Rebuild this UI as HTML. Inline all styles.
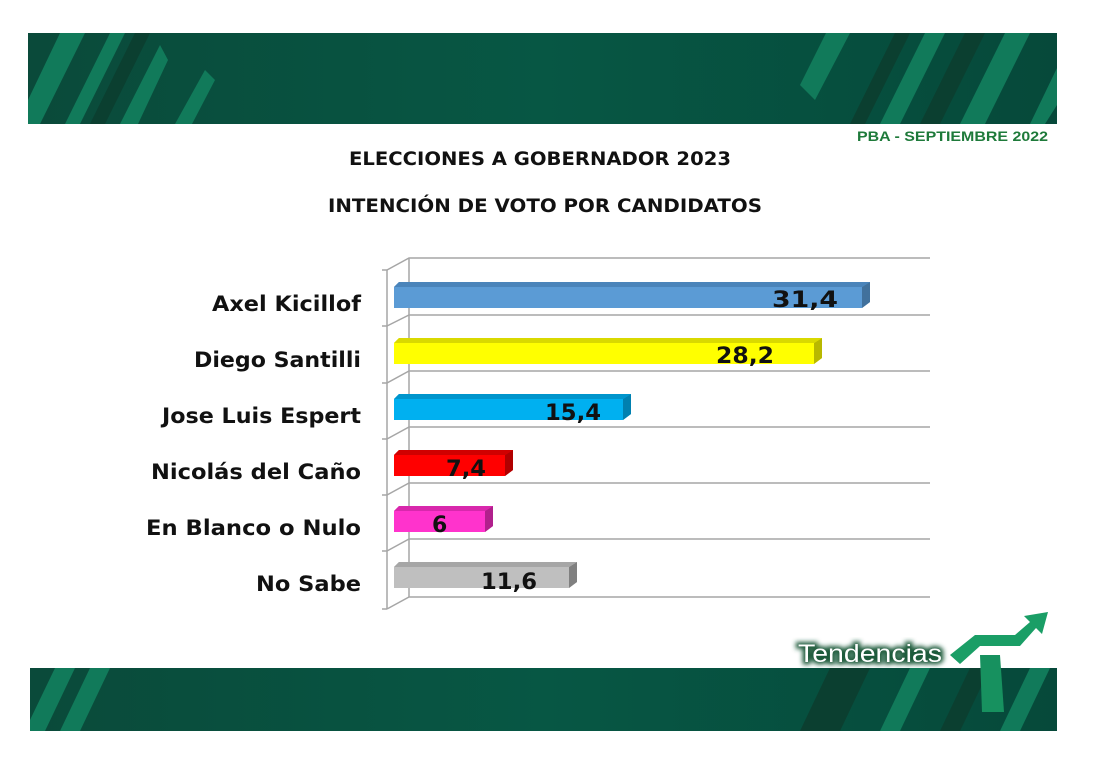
<!DOCTYPE html>
<html><head><meta charset="utf-8"><style>
html,body{margin:0;padding:0;background:#fff;}
body{width:1094px;height:761px;overflow:hidden;}
</style></head><body>
<svg width="1094" height="761" viewBox="0 0 1094 761" xmlns="http://www.w3.org/2000/svg" font-family="DejaVu Sans, Liberation Sans, sans-serif">
<defs>
<linearGradient id="bg" x1="0" y1="0" x2="1" y2="0"><stop offset="0" stop-color="#0a4a3a"/><stop offset="0.5" stop-color="#075744"/><stop offset="1" stop-color="#06493a"/></linearGradient>
<filter id="glow"><feGaussianBlur stdDeviation="2.5"/></filter>
</defs>
<rect x="28" y="33" width="1029" height="91" fill="url(#bg)"/>
<g fill="#117a5a">
<polygon points="28,100 60,33 85,33 40,124 28,124"/>
<polygon points="65,124 110,33 125,33 80,124"/>
<polygon points="120,124 160,45 168,60 138,124"/>
<polygon points="175,124 205,70 215,80 192,124"/>
<polygon points="800,85 826,33 850,33 815,100"/>
<polygon points="880,124 925,33 945,33 900,124"/>
<polygon points="960,124 1005,33 1030,33 985,124"/>
<polygon points="1030,124 1057,68 1057,105 1045,124"/>
</g>
<g fill="#0b3f30"><polygon points="90,124 135,33 150,33 105,124"/><polygon points="850,124 895,33 910,33 865,124"/><polygon points="920,124 965,33 985,33 940,124"/></g>
<text x="857" y="141" textLength="191" lengthAdjust="spacingAndGlyphs" font-family="Liberation Sans, sans-serif" font-size="14" font-weight="bold" fill="#1e7a3a">PBA - SEPTIEMBRE 2022</text>
<text x="349" y="165" textLength="382" lengthAdjust="spacingAndGlyphs" font-size="19" font-weight="bold" fill="#111">ELECCIONES A GOBERNADOR 2023</text>
<text x="328" y="212" textLength="434" lengthAdjust="spacingAndGlyphs" font-size="19" font-weight="bold" fill="#111">INTENCIÓN DE VOTO POR CANDIDATOS</text>
<g stroke="#a6a6a6" stroke-width="1.5" fill="none">
<line x1="409" y1="258" x2="409" y2="597"/>
<line x1="387" y1="270" x2="387" y2="609"/>
<path d="M387 270 L409 258 H930 M387 326 L409 315 H930 M387 383 L409 371 H930 M387 439 L409 427 H930 M387 495 L409 483 H930 M387 551 L409 539 H930 M387 609 L409 597 H930"/>
<path d="M382 270H387M382 326H387M382 383H387M382 439H387M382 495H387M382 551H387M382 609H387"/>
</g>
<g font-size="22" font-weight="bold" fill="#111">
<polygon points="394,287 399,282 870,282 870,302 862,308 394,308" fill="#5b9bd5"/><polygon points="862,287 870,282 870,302 862,308" fill="#41719c"/><polygon points="394,287 399,282 870,282 862,287" fill="#4a84ba"/>
<text x="772" y="307" textLength="66" lengthAdjust="spacingAndGlyphs">31,4</text>
<polygon points="394,343 399,338 822,338 822,358 814,364 394,364" fill="#ffff00"/><polygon points="814,343 822,338 822,358 814,364" fill="#b8b800"/><polygon points="394,343 399,338 822,338 814,343" fill="#d9d900"/>
<text x="716" y="363" textLength="58" lengthAdjust="spacingAndGlyphs">28,2</text>
<polygon points="394,399 399,394 631,394 631,414 623,420 394,420" fill="#00b0f0"/><polygon points="623,399 631,394 631,414 623,420" fill="#0080b0"/><polygon points="394,399 399,394 631,394 623,399" fill="#0095cc"/>
<text x="545" y="420" textLength="56" lengthAdjust="spacingAndGlyphs">15,4</text>
<polygon points="394,455 399,450 513,450 513,470 505,476 394,476" fill="#ff0000"/><polygon points="505,455 513,450 513,470 505,476" fill="#b00000"/><polygon points="394,455 399,450 513,450 505,455" fill="#d00000"/>
<text x="446" y="476" textLength="40" lengthAdjust="spacingAndGlyphs">7,4</text>
<polygon points="394,511 399,506 493,506 493,526 485,532 394,532" fill="#ff33cc"/><polygon points="485,511 493,506 493,526 485,532" fill="#b0208c"/><polygon points="394,511 399,506 493,506 485,511" fill="#d828ac"/>
<text x="432" y="532">6</text>
<polygon points="394,567 399,562 577,562 577,582 569,588 394,588" fill="#bfbfbf"/><polygon points="569,567 577,562 577,582 569,588" fill="#808080"/><polygon points="394,567 399,562 577,562 569,567" fill="#a6a6a6"/>
<text x="481" y="589" textLength="56" lengthAdjust="spacingAndGlyphs">11,6</text>
</g>
<g font-size="21" font-weight="bold" fill="#111">
<text x="212" y="311" textLength="149" lengthAdjust="spacingAndGlyphs">Axel Kicillof</text>
<text x="194" y="367" textLength="167" lengthAdjust="spacingAndGlyphs">Diego Santilli</text>
<text x="162" y="423" textLength="199" lengthAdjust="spacingAndGlyphs">Jose Luis Espert</text>
<text x="151" y="479" textLength="210" lengthAdjust="spacingAndGlyphs">Nicolás del Caño</text>
<text x="146" y="535" textLength="215" lengthAdjust="spacingAndGlyphs">En Blanco o Nulo</text>
<text x="256" y="591" textLength="105" lengthAdjust="spacingAndGlyphs">No Sabe</text>
</g>
<rect x="30" y="668" width="1027" height="63" fill="url(#bg)"/>
<g fill="#117a5a">
<polygon points="30,720 55,668 75,668 45,731 30,731"/>
<polygon points="60,731 90,668 110,668 80,731"/>
<polygon points="880,731 910,668 930,668 900,731"/>
<polygon points="1000,731 1030,668 1050,668 1020,731"/>
</g>
<g fill="#0b3f30"><polygon points="800,731 830,668 870,668 840,731"/><polygon points="940,731 970,668 990,668 960,731"/></g>
<polygon points="980,655 1000,655 1004,712 982,712" fill="#17915f"/>
<polygon points="950,655 975,635 1015,635 1030,622 1024,616 1048,612 1042,634 1036,628 1020,646 980,646 960,664" fill="#1a9e66"/>
<text x="798" y="662" textLength="144" lengthAdjust="spacingAndGlyphs" font-family="Liberation Sans, sans-serif" font-size="25" fill="#1a5a3a" filter="url(#glow)" stroke="#1a5a3a" stroke-width="5">Tendencias</text>
<text x="798" y="662" textLength="144" lengthAdjust="spacingAndGlyphs" font-family="Liberation Sans, sans-serif" font-size="25" fill="#ffffff">Tendencias</text>
</svg>
</body></html>
